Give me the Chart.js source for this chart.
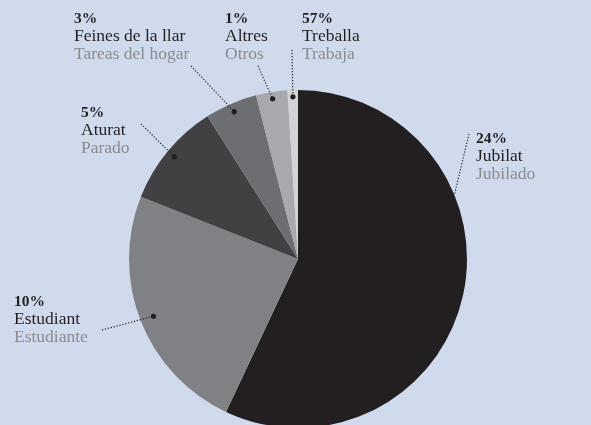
<!DOCTYPE html>
<html>
<head>
<meta charset="utf-8">
<script src="https://cdn.jsdelivr.net/npm/chart.js@4.4.0/dist/chart.umd.min.js"></script>
<style>
html, body { margin: 0; padding: 0; width: 591px; height: 425px; overflow: hidden; background: #cfdbed; }
canvas { display: block; }
</style>
</head>
<body>
<canvas id="pieChart" width="591" height="440"></canvas>
<script>
const categoriesCa = ['Treballa', 'Jubilat', 'Estudiant', 'Aturat', 'Feines de la llar', 'Altres'];
const categoriesEs = ['Trabaja', 'Jubilado', 'Estudiante', 'Parado', 'Tareas del hogar', 'Otros'];
const shares = [57, 24, 10, 5, 3, 1];
const sliceColors = ['#231f20', '#808184', '#414042', '#6d6e71', '#a7a9ac', '#d1d3d4'];

// one note per slice; "label" is the category whose text is shown (one slice along, as in the original)
const notes = [
    {label: 1, x: 476, y: 143, lx: 469, ly: 134, frac: 0.33, r: 1.0, dot: false},
    {label: 2, x: 14, y: 306, lx: 102, ly: 330, frac: 0.5, r: 0.92, dot: true},
    {label: 3, x: 81, y: 117, lx: 141, ly: 124, frac: 0.5, r: 0.95, dot: true},
    {label: 4, x: 74, y: 23, lx: 191, ly: 66, frac: 0.5, r: 0.95, dot: true},
    {label: 5, x: 225, y: 23, lx: 258, ly: 66, frac: 0.5, r: 0.96, dot: true},
    {label: 0, x: 302, y: 23, lx: 292, ly: 50, frac: 0.5, r: 0.96, dot: true}
];

const notesPlugin = {
    id: 'notes',
    afterDatasetsDraw(chart) {
        let ctx = chart.ctx;
        let arcs = chart.getDatasetMeta(0).data;
        ctx.save();
        notes.forEach(function(n, i) {
            let a = arcs[i].getProps(['x', 'y', 'startAngle', 'endAngle', 'outerRadius'], true);
            let ang = a.startAngle + (a.endAngle - a.startAngle) * n.frac;
            let px = a.x + Math.cos(ang) * a.outerRadius * n.r;
            let py = a.y + Math.sin(ang) * a.outerRadius * n.r;
            // dotted leader
            ctx.strokeStyle = '#231f20';
            ctx.lineWidth = 1.2;
            ctx.setLineDash([1.2, 1.8]);
            ctx.beginPath();
            ctx.moveTo(n.lx, n.ly);
            ctx.lineTo(px, py);
            ctx.stroke();
            ctx.setLineDash([]);
            if (n.dot) {
                ctx.fillStyle = '#231f20';
                ctx.beginPath();
                ctx.arc(px, py, 2.6, 0, Math.PI * 2);
                ctx.fill();
            }
            // texts
            ctx.textAlign = 'left';
            ctx.textBaseline = 'alphabetic';
            ctx.fillStyle = '#231f20';
            ctx.font = 'bold 15.5px "Liberation Serif"';
            ctx.fillText(shares[n.label] + '%', n.x, n.y);
            ctx.font = '17.5px "Liberation Serif"';
            ctx.fillText(categoriesCa[n.label], n.x, n.y + 18);
            ctx.fillStyle = '#8a8b8e';
            ctx.fillText(categoriesEs[n.label], n.x, n.y + 36);
        });
        ctx.restore();
    }
};

function managePieChart() {
    let ctx = document.getElementById('pieChart').getContext('2d');
    let pieChart = new Chart(ctx, {
        type: 'pie',
        data: {
            labels: categoriesCa,
            datasets: [{
                data: shares,
                backgroundColor: sliceColors,
                borderWidth: 0
            }]
        },
        options: {
            responsive: false,
            animation: false,
            layout: {padding: {left: 129, right: 124, top: 90, bottom: 12}},
            plugins: {
                legend: {display: false},
                tooltip: {enabled: false}
            }
        },
        plugins: [notesPlugin]
    });
}

managePieChart();
</script>
</body>
</html>
